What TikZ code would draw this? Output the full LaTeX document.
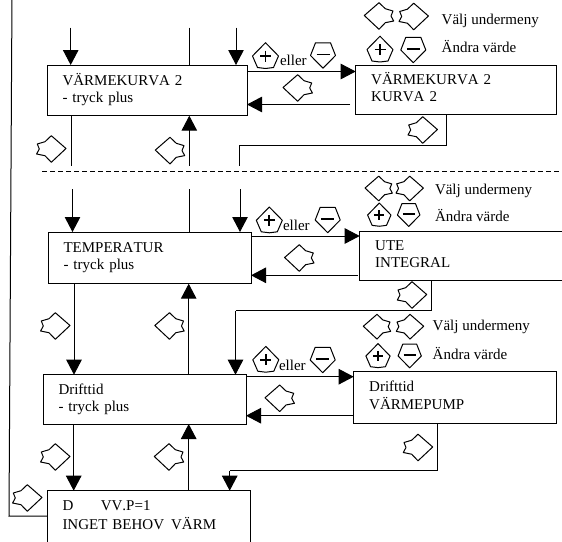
\documentclass[tikz,border=0pt]{standalone}
\usepackage{fontspec}
\setmainfont[Kerning=Off]{Liberation Serif}
\usetikzlibrary{arrows.meta}
\tikzset{
  line/.style={line width=1pt,black},
  arr/.style={line,-{Triangle[length=15pt,width=15.5pt]}},
  box/.style={draw,line width=1pt,anchor=north west,inner xsep=15.5pt,inner ysep=0pt,outer sep=0pt,align=left,font=\fontsize{15}{17}\selectfont},
  lab/.style={anchor=base west,inner sep=0pt,outer sep=0pt,font=\fontsize{15}{17}\selectfont},
  keyline/.style={line width=1pt,line join=round},
  sign/.style={line width=1.7pt},
  keyl/.pic={\draw[keyline] (-14.7,-0.5) -- (0,-13.3) -- (6.3,-7.3) -- (14,-5) -- (12,0) -- (14.7,5) -- (6.3,6.7) -- (0,13.3) -- cycle;},
  keyr/.pic={\draw[keyline] (14.7,-0.5) -- (0,-13.3) -- (-6.3,-7.3) -- (-14,-5) -- (-12,0) -- (-14.7,5) -- (-6.3,6.7) -- (0,13.3) -- cycle;},
  keyp/.pic={\draw[keyline] (0,-13.3) -- (13,0) -- (8,11.5) -- (0,12.5) -- (-8,11.5) -- (-13,0) -- cycle;
    \draw[sign] (-5.5,0) -- (5.5,0) (0,-5.5) -- (0,5.5);},
  keym/.pic={\draw[keyline] (-7.5,-12.7) -- (7.5,-12.7) -- (12.5,0) -- (0,12.7) -- (-12.5,0) -- cycle;
    \draw[sign] (-6.5,-1) -- (6.5,-1);},
}
\begin{document}
\begin{tikzpicture}[x=1pt,y=-1pt]
\useasboundingbox (0,0) rectangle (562,541);
\clip (0,0) rectangle (562,541);

% boxes
\node[box,text width=169pt,minimum height=50.7pt] (vk) at (47,65) {\strut VÄRMEKURVA 2\\\strut - tryck plus};
\node[box,text width=169.3pt,minimum height=48.3pt] (vks) at (355.7,65.7) {\strut VÄRMEKURVA 2\\\strut KURVA 2};
\node[box,text width=172pt,minimum height=51.7pt] (te) at (48,232) {\strut TEMPERATUR\\\strut - tryck plus};
\node[box,text width=190pt,minimum height=49.4pt] (ute) at (359.7,231.3) {\strut UTE\\\strut INTEGRAL};
\node[box,text width=172pt,minimum height=49.3pt] (dr) at (43,374.7) {\strut Drifttid\\\strut - tryck plus};
\node[box,text width=172pt,minimum height=52.3pt] (drs) at (353.7,371) {\strut Drifttid\\\strut VÄRMEPUMP};
\node[box,text width=172pt,minimum height=52pt] (d) at (47,490.7) {\strut D\hspace{27.5pt}VV.P=1\\\strut INGET BEHOV\hspace{2pt} VÄRM};

% free ends
\coordinate (a1) at (70.7,27.7);
\coordinate (a2) at (189.3,27.7);
\coordinate (a3) at (236,27.7);
\coordinate (a4) at (71,165.7);
\coordinate (a5) at (189.3,165.7);
\coordinate (a6) at (239.7,165.7);
\coordinate (a7) at (446.3,145);
\coordinate (a8) at (350,104.5);
\coordinate (a9) at (247,71.5);
\coordinate (b1) at (72.5,189.3);
\coordinate (b2) at (189.7,189.3);
\coordinate (b3) at (240,189.3);
\coordinate (b4) at (357.7,275.3);
\coordinate (b5) at (251,236);
\coordinate (b6) at (431,310.7);
\coordinate (b7) at (235.5,310.7);
\coordinate (c1) at (74,283.7);
\coordinate (c2) at (188.7,374.7);
\coordinate (c3) at (246,376.7);
\coordinate (c4) at (353.7,415.7);
\coordinate (c5) at (437.7,470.7);
\coordinate (c6) at (229.7,470.7);
\coordinate (c7) at (73.7,424);
\coordinate (c8) at (188.7,490.7);
\coordinate (ltop) at (12,-5);
\coordinate (lbot) at (9,516);
\coordinate (dl) at (42,171);
\coordinate (dr2) at (570,171);

% connectors
\draw[arr] (a1) -- (a1 |- vk.north);
\draw[line] (a2) -- (a2 |- vk.north);
\draw[arr] (a3) -- (a3 |- vk.north);
\draw[arr] (a9) -- (vks.west |- a9);
\draw[arr] (a8) -- (vk.east |- a8);
\draw[line] (a4 |- vk.south) -- (a4);
\draw[arr] (a5) -- (a5 |- vk.south);
\draw[line] (a7 |- vks.south) -- (a7) -- (a7 -| a6) -- (a6);
\draw[line,dash pattern=on 5pt off 3pt] (dl) -- (dr2);

\draw[arr] (b1) -- (b1 |- te.north);
\draw[line] (b2) -- (b2 |- te.north);
\draw[arr] (b3) -- (b3 |- te.north);
\draw[arr] (b5) -- (ute.west |- b5);
\draw[arr] (b4) -- (te.east |- b4);
\draw[arr] (c1) -- (c1 |- dr.north);
\draw[arr] (c2) -- (c2 |- te.south);
\draw[line] (b6 |- ute.south) -- (b6) -- (b7);
\draw[arr] (b7) -- (b7 |- dr.north);

\draw[arr] (c3) -- (drs.west |- c3);
\draw[arr] (c4) -- (dr.east |- c4);
\draw[arr] (c7) -- (c7 |- d.north);
\draw[arr] (c8) -- (c8 |- dr.south);
\draw[line] (c5 |- drs.south) -- (c5) -- (c6);
\draw[arr] (c6) -- (c6 |- d.north);
\draw[line] (ltop) -- (lbot) -- (lbot -| d.west);

% keys, first block
\pic at (379,16) {keyl};
\pic at (413.7,16.5) {keyr};
\pic at (380,49.5) {keyp};
\pic at (413.3,50) {keym};
\pic at (265.5,56) {keyp};
\pic at (323,55.5) {keym};
\pic at (297.7,88) {keyl};
\pic at (422.7,130) {keyr};
\pic at (51.3,149) {keyr};
\pic at (170,150.6) {keyl};
% keys, second block
\pic[scale=0.93] at (378.7,188.5) {keyl};
\pic[scale=0.93] at (409.7,188.5) {keyr};
\pic[scale=0.9] at (379.3,215) {keyp};
\pic[scale=0.9] at (408.7,215) {keym};
\pic at (269.3,220.3) {keyp};
\pic at (327.7,220) {keym};
\pic at (299.3,258) {keyl};
\pic at (412,295) {keyr};
\pic at (55.3,326) {keyr};
\pic at (169.5,326) {keyl};
% keys, third block
\pic[scale=0.93] at (377,326.7) {keyl};
\pic[scale=0.93] at (410,326.7) {keyr};
\pic[scale=0.93] at (378,356) {keyp};
\pic[scale=0.93] at (409.7,356) {keym};
\pic at (265.8,359.7) {keyp};
\pic at (322.7,360) {keym};
\pic at (279.7,398.3) {keyl};
\pic at (418,447.5) {keyr};
\pic at (55.3,457) {keyr};
\pic at (169,457) {keyl};
\pic at (27.3,498) {keyr};

% labels
\node[lab] (t1) at (441.7,24) {Välj undermeny};
\node[lab] (t2) at (441.7,52) {Ändra värde};
\node[lab] (t3) at (280,65) {eller};
\node[lab] (t4) at (435,194) {Välj undermeny};
\node[lab] (t5) at (435,221.7) {Ändra värde};
\node[lab] (t6) at (283,230) {eller};
\node[lab] (t7) at (432.7,330) {Välj undermeny};
\node[lab] (t8) at (432.7,359.3) {Ändra värde};
\node[lab] (t9) at (279,370) {eller};
\end{tikzpicture}
\end{document}
